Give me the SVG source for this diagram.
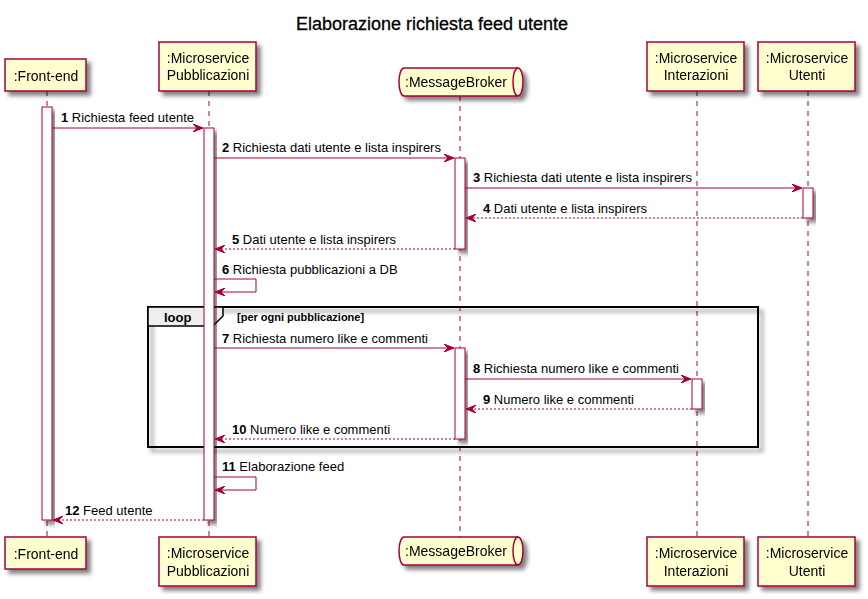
<svg xmlns="http://www.w3.org/2000/svg" width="868" height="599" viewBox="0 0 868 599">
<defs>
<filter id="sh" x="-20%" y="-20%" width="150%" height="150%">
<feGaussianBlur in="SourceAlpha" stdDeviation="2"/>
<feOffset dx="4" dy="4" result="b"/>
<feComponentTransfer><feFuncA type="linear" slope="0.5"/></feComponentTransfer>
<feMerge><feMergeNode/><feMergeNode in="SourceGraphic"/></feMerge>
</filter>
<marker id="ah" viewBox="0 0 10 8" refX="10" refY="4" markerWidth="10" markerHeight="8" markerUnits="userSpaceOnUse" orient="auto">
<polygon points="0,0 10,4 0,8 4,4" fill="#A80036" stroke="#A80036" stroke-width="1"/>
</marker>
</defs>
<style>
.t{font-family:"Liberation Sans",Arial,sans-serif;font-size:13px;fill:#000}
.p{font-family:"Liberation Sans",Arial,sans-serif;font-size:14px;fill:#000;text-anchor:middle}
.box{fill:#FEFECE;stroke:#A80036;stroke-width:1.5}
.life{stroke:#A80036;stroke-width:1;stroke-dasharray:5,5;fill:none}
.act{fill:#FFFFFF;stroke:#A80036;stroke-width:1}
.m{stroke:#A80036;stroke-width:1;fill:none;marker-end:url(#ah)}
.r{stroke:#A80036;stroke-width:1;fill:none;stroke-dasharray:2,2;marker-end:url(#ah)}
.n{font-weight:bold}
</style>
<rect width="868" height="599" fill="#FFFFFF"/>
<text x="432" y="30" font-family="'Liberation Sans',Arial,sans-serif" font-size="18" text-anchor="middle" stroke="#000" stroke-width="0.3">Elaborazione richiesta feed utente</text>

<g id="lifelines">
<line class="life" x1="47" y1="91" x2="47" y2="537"/>
<line class="life" x1="209" y1="91" x2="209" y2="537"/>
<line class="life" x1="460" y1="96" x2="460" y2="537"/>
<line class="life" x1="697" y1="91" x2="697" y2="537"/>
<line class="life" x1="808" y1="91" x2="808" y2="537"/>
</g>

<g id="loop">
<rect x="148" y="307" width="610" height="140" fill="none" stroke="#000" stroke-width="2" filter="url(#sh)"/>
<polygon points="148,307 223,307 223,316 213,326 148,326" fill="#EEEEEE" stroke="#000" stroke-width="1.5"/>
<text x="164" y="322" font-family="'Liberation Sans',Arial,sans-serif" font-size="13" font-weight="bold">loop</text>
<text x="237" y="321" font-family="'Liberation Sans',Arial,sans-serif" font-size="11" font-weight="bold">[per ogni pubblicazione]</text>
</g>

<g id="activations">
<rect class="act" x="42" y="107" width="10" height="413" filter="url(#sh)"/>
<rect class="act" x="204" y="128" width="10" height="392" filter="url(#sh)"/>
<rect class="act" x="455" y="158" width="10" height="91" filter="url(#sh)"/>
<rect class="act" x="803" y="188" width="10" height="30" filter="url(#sh)"/>
<rect class="act" x="455" y="348" width="10" height="91" filter="url(#sh)"/>
<rect class="act" x="692" y="379" width="10" height="30" filter="url(#sh)"/>
</g>

<g id="front-end-top" filter="url(#sh)">
<rect class="box" x="5" y="59" width="81" height="32"/>
<text class="p" x="46" y="81">:Front-end</text>
</g>
<g id="pubblicazioni-top" filter="url(#sh)">
<rect class="box" x="159" y="42" width="97" height="49"/>
<text class="p" x="208" y="63">:Microservice</text>
<text class="p" x="208" y="80">Pubblicazioni</text>
</g>
<g id="messagebroker-top" filter="url(#sh)">
<path class="box" d="M404,68 H518 A5,14 0 0 1 518,96 H404 A5,14 0 0 1 404,68 Z"/>
<path d="M518,68 A5,14 0 0 0 518,96" fill="none" stroke="#A80036" stroke-width="1.5"/>
<text class="p" x="456" y="87">:MessageBroker</text>
</g>
<g id="interazioni-top" filter="url(#sh)">
<rect class="box" x="647" y="42" width="97" height="49"/>
<text class="p" x="696" y="63">:Microservice</text>
<text class="p" x="696" y="80">Interazioni</text>
</g>
<g id="utenti-top" filter="url(#sh)">
<rect class="box" x="758" y="42" width="97" height="49"/>
<text class="p" x="807" y="63">:Microservice</text>
<text class="p" x="807" y="80">Utenti</text>
</g>

<g id="front-end-bottom" filter="url(#sh)">
<rect class="box" x="5" y="537" width="81" height="32"/>
<text class="p" x="46" y="559">:Front-end</text>
</g>
<g id="pubblicazioni-bottom" filter="url(#sh)">
<rect class="box" x="159" y="537" width="97" height="49"/>
<text class="p" x="208" y="558">:Microservice</text>
<text class="p" x="208" y="576">Pubblicazioni</text>
</g>
<g id="messagebroker-bottom" filter="url(#sh)">
<path class="box" d="M404,537 H518 A5,14 0 0 1 518,565 H404 A5,14 0 0 1 404,537 Z"/>
<path d="M518,537 A5,14 0 0 0 518,565" fill="none" stroke="#A80036" stroke-width="1.5"/>
<text class="p" x="456" y="556">:MessageBroker</text>
</g>
<g id="interazioni-bottom" filter="url(#sh)">
<rect class="box" x="647" y="537" width="97" height="49"/>
<text class="p" x="696" y="558">:Microservice</text>
<text class="p" x="696" y="576">Interazioni</text>
</g>
<g id="utenti-bottom" filter="url(#sh)">
<rect class="box" x="758" y="537" width="97" height="49"/>
<text class="p" x="807" y="558">:Microservice</text>
<text class="p" x="807" y="576">Utenti</text>
</g>

<g id="connectors">
<line class="m" x1="52" y1="128" x2="203" y2="128"/>
<text class="t" x="61" y="122"><tspan class="n">1</tspan> Richiesta feed utente</text>
<line class="m" x1="214" y1="158" x2="454" y2="158"/>
<text class="t" x="222" y="152"><tspan class="n">2</tspan> Richiesta dati utente e lista inspirers</text>
<line class="m" x1="465" y1="188" x2="802" y2="188"/>
<text class="t" x="473" y="182"><tspan class="n">3</tspan> Richiesta dati utente e lista inspirers</text>
<line class="r" x1="803" y1="218" x2="466" y2="218"/>
<text class="t" x="483" y="213"><tspan class="n">4</tspan> Dati utente e lista inspirers</text>
<line class="r" x1="455" y1="249" x2="215" y2="249"/>
<text class="t" x="232" y="244"><tspan class="n">5</tspan> Dati utente e lista inspirers</text>
<polyline class="m" points="214,279 256,279 256,292 215,292"/>
<text class="t" x="222" y="274"><tspan class="n">6</tspan> Richiesta pubblicazioni a DB</text>
<line class="m" x1="214" y1="348" x2="454" y2="348"/>
<text class="t" x="222" y="343"><tspan class="n">7</tspan> Richiesta numero like e commenti</text>
<line class="m" x1="465" y1="379" x2="691" y2="379"/>
<text class="t" x="473" y="373"><tspan class="n">8</tspan> Richiesta numero like e commenti</text>
<line class="r" x1="692" y1="409" x2="466" y2="409"/>
<text class="t" x="483" y="404"><tspan class="n">9</tspan> Numero like e commenti</text>
<line class="r" x1="455" y1="439" x2="215" y2="439"/>
<text class="t" x="232" y="434"><tspan class="n">10</tspan> Numero like e commenti</text>
<polyline class="m" points="214,477 256,477 256,490 215,490"/>
<text class="t" x="222" y="471"><tspan class="n">11</tspan> Elaborazione feed</text>
<line class="r" x1="204" y1="520" x2="53" y2="520"/>
<text class="t" x="65" y="515"><tspan class="n">12</tspan> Feed utente</text>
</g>
</svg>
